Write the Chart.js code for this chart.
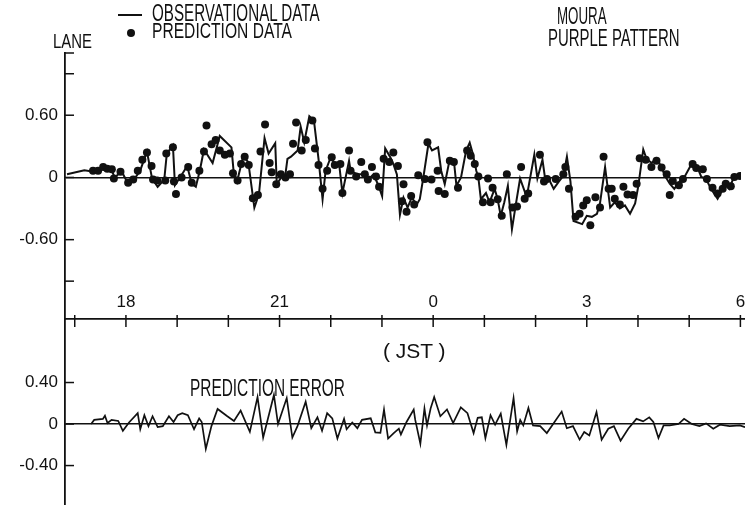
<!DOCTYPE html>
<html>
<head>
<meta charset="utf-8">
<script src="https://cdn.jsdelivr.net/npm/chart.js@4.4.1/dist/chart.umd.min.js"></script>
<style>
    html, body { margin: 0; padding: 0; background: #fff; }
    #wrap { position: relative; width: 745px; height: 505px; overflow: hidden; font-family: 'Liberation Sans', Arial, sans-serif; color: #111; }
    canvas { position: absolute; left: 0; }
    #laneChart { top: 0; }
    #errorChart { top: 280px; }
    .label { position: absolute; white-space: nowrap; line-height: 1; transform-origin: 0 0; }
    .key-line { position: absolute; left: 118px; top: 14px; width: 24px; height: 2px; background: #111; }
    .key-dot { position: absolute; left: 127px; top: 29px; width: 8px; height: 8px; border-radius: 50%; background: #111; }
</style>
</head>
<body>
<div id="wrap">
    <canvas id="laneChart" width="745" height="330"></canvas>
    <canvas id="errorChart" width="745" height="225"></canvas>

    <div class="key-line"></div>
    <div class="key-dot"></div>
    <div class="label" style="left:152px;top:2px;font-size:23px;transform:scaleX(0.66)">OBSERVATIONAL DATA</div>
    <div class="label" style="left:152px;top:20px;font-size:22px;transform:scaleX(0.71)">PREDICTION DATA</div>
    <div class="label" style="left:53px;top:30px;font-size:21px;transform:scaleX(0.71)">LANE</div>
    <div class="label" style="left:557px;top:5px;font-size:23px;transform:scaleX(0.58)">MOURA</div>
    <div class="label" style="left:548px;top:27px;font-size:23px;transform:scaleX(0.65)">PURPLE PATTERN</div>
    <div class="label" style="left:190px;top:377px;font-size:23px;transform:scaleX(0.67)">PREDICTION ERROR</div>
    <div class="label" style="left:383px;top:340px;font-size:21px;">( JST )</div>
</div>

<script>
// hours after 18:00 JST
const obsHours = [
    -1.15, -0.81, -0.63, -0.45, -0.29, -0.21, -0.08, 0.05, 0.18, 0.29, 0.42, 0.52, 0.63, 0.76, 0.81, 0.93, 0.97,
    1.07, 1.21, 1.30, 1.38, 1.46, 1.54, 1.71, 1.85, 2.08, 2.12, 2.19, 2.31, 2.41, 2.53, 2.62, 2.73, 2.81, 2.94, 2.97,
    3.07, 3.14, 3.18, 3.25, 3.38, 3.44, 3.51, 3.61, 3.70, 3.79, 3.87, 3.93, 4.03, 4.13, 4.20, 4.26, 4.39, 4.42,
    4.55, 4.68, 4.78, 4.87, 4.97, 5.04, 5.10, 5.20, 5.26, 5.33, 5.39, 5.46, 5.54, 5.62, 5.72, 5.78, 5.85, 5.95,
    6.02, 6.14, 6.20, 6.27, 6.37, 6.45, 6.50, 6.59, 6.69, 6.76, 6.82, 6.89, 6.93, 6.98, 7.08, 7.15, 7.25, 7.31,
    7.37, 7.44, 7.51, 7.59, 7.67, 7.75, 7.88, 8.03, 8.09, 8.19, 8.25, 8.31, 8.41, 8.51, 8.60, 8.67, 8.74, 8.80,
    8.97, 9.06, 9.16, 9.26, 9.32, 9.42, 9.52, 9.61, 9.71, 9.81, 9.91, 10.01, 10.07, 10.17, 10.23, 10.33, 10.43,
    10.53, 10.59, 10.69, 10.78, 10.88, 10.98, 11.13, 11.24, 11.31, 11.40, 11.50, 11.63, 11.70, 11.79, 11.86,
    11.95, 12.09
];
const obsLane = [
    0.03, 0.07, 0.055, 0.10, 0.08, 0.0, 0.06, -0.06, -0.01, 0.07, 0.25, -0.01, -0.09, -0.02, 0.23, 0.31, -0.075,
    0.0, 0.11, -0.06, -0.09, 0.07, 0.27, 0.14, 0.40, 0.29, 0.07, -0.04, 0.20, 0.15, -0.29, -0.16, 0.38, 0.23, 0.33, -0.065,
    0.01, 0.03, 0.18, 0.20, 0.26, 0.49, 0.34, 0.59, 0.55, 0.18, -0.21, 0.065, 0.195, 0.11, 0.11, -0.15, 0.16, 0.065,
    0.03, 0.03, -0.015, 0.03, -0.08, -0.18, 0.28, 0.195, 0.13, 0.03, -0.36, -0.195, -0.29, -0.195, -0.26, -0.21, 0.0, 0.325,
    0.26, 0.29, 0.065, -0.065, 0.18, 0.16, -0.08, 0.0, 0.26, 0.335, 0.23, 0.065, 0.0, -0.21, -0.15, -0.24, -0.11, -0.21,
    -0.37, -0.24, -0.08, -0.50, -0.25, -0.01, -0.19, 0.22, -0.01, 0.17, -0.04, -0.01, -0.11, -0.04, 0.015, 0.20, -0.04, -0.42,
    -0.45, -0.37, -0.38, -0.35, -0.25, 0.10, -0.29, -0.24, -0.30, -0.27, -0.35, -0.25, -0.09, 0.27, 0.185, 0.14, 0.185,
    0.10, 0.02, -0.06, -0.11, -0.04, 0.005, 0.14, 0.09, 0.005, -0.01, -0.11, -0.205, -0.14, -0.075, -0.11,
    0.005, 0.02
];

const predHours = [
    -0.64, -0.54, -0.44, -0.36, -0.27, -0.23, -0.10, 0.05, 0.15, 0.24, 0.33, 0.42, 0.51, 0.54, 0.62, 0.78, 0.80,
    0.93, 0.95, 0.99, 1.10, 1.23, 1.30, 1.45, 1.54, 1.59, 1.69, 1.77, 1.85, 1.95, 2.05, 2.11, 2.20, 2.27, 2.34,
    2.42, 2.50, 2.60, 2.65, 2.74, 2.83, 2.87, 2.96, 3.05, 3.14, 3.23, 3.29, 3.35, 3.46, 3.54, 3.67, 3.72, 3.79,
    3.87, 3.96, 4.05, 4.11, 4.22, 4.26, 4.39, 4.42, 4.53, 4.63, 4.70, 4.76, 4.84, 4.92, 4.98, 5.07, 5.18, 5.26,
    5.35, 5.43, 5.46, 5.52, 5.61, 5.67, 5.75, 5.88, 5.93, 6.01, 6.13, 6.15, 6.27, 6.37, 6.45, 6.53, 6.71, 6.78,
    6.86, 6.93, 7.02, 7.12, 7.17, 7.21, 7.31, 7.39, 7.49, 7.60, 7.69, 7.77, 7.84, 7.91, 8.14, 8.22, 8.28, 8.45,
    8.60, 8.64, 8.71, 8.84, 8.92, 8.99, 9.06, 9.13, 9.23, 9.32, 9.39, 9.49, 9.55, 9.61, 9.71, 9.78, 9.86, 9.97,
    10.04, 10.10, 10.22, 10.33, 10.43, 10.53, 10.63, 10.69, 10.75, 10.87, 10.95, 11.14, 11.21, 11.34, 11.42,
    11.53, 11.63, 11.73, 11.79, 11.89, 11.96, 12.07
];
const predLane = [
    0.065, 0.065, 0.10, 0.085, 0.08, -0.01, 0.055, -0.05, -0.02, 0.065, 0.17, 0.24, 0.11, -0.02, -0.03, -0.03, 0.23,
    0.29, -0.04, -0.16, 0.0, 0.10, -0.05, 0.065, 0.25, 0.50, 0.32, 0.36, 0.26, 0.22, 0.23, 0.04, -0.03, 0.13, 0.20,
    0.12, -0.20, -0.17, 0.25, 0.51, 0.14, 0.05, -0.065, 0.03, 0.0, 0.03, 0.325, 0.53, 0.26, 0.36, 0.55, 0.28, 0.12,
    -0.11, 0.065, 0.195, 0.12, 0.13, -0.15, 0.26, 0.065, 0.01, 0.15, 0.03, -0.02, 0.10, 0.01, -0.09, 0.18, 0.15, 0.24,
    0.11, -0.23, -0.065, -0.33, -0.18, -0.26, 0.02, -0.015, 0.34, -0.02, 0.065, -0.13, -0.16, 0.16, 0.15, -0.10, 0.26, 0.21,
    0.13, 0.01, -0.24, -0.01, -0.24, -0.10, -0.21, -0.37, 0.03, -0.29, -0.28, 0.10, -0.205, -0.155, 0.22, -0.04, -0.015, -0.015,
    0.03, 0.10, -0.11, -0.38, -0.35, -0.27, -0.22, -0.46, -0.19, -0.29, 0.20, -0.11, -0.11, -0.205, -0.26, -0.09, -0.165, -0.17,
    -0.06, 0.185, 0.17, 0.10, 0.16, 0.095, 0.03, -0.17, -0.035, -0.075, -0.015, 0.13, 0.09, 0.08, -0.015,
    -0.10, -0.155, -0.11, -0.06, -0.085, 0.005, 0.015
];

const errHours = [
    -0.68, -0.62, -0.45, -0.41, -0.36, -0.28, -0.15, -0.06, 0.06, 0.23, 0.28, 0.36, 0.44, 0.52, 0.62, 0.72, 0.84,
    0.93, 1.01, 1.10, 1.21, 1.33, 1.43, 1.48, 1.56, 1.67, 1.79, 1.98, 2.11, 2.24, 2.42, 2.57, 2.68, 2.89, 2.97,
    3.14, 3.25, 3.35, 3.51, 3.62, 3.74, 3.83, 3.93, 4.03, 4.13, 4.26, 4.31, 4.42, 4.52, 4.61, 4.78, 4.87, 4.97,
    5.04, 5.12, 5.23, 5.33, 5.37, 5.48, 5.62, 5.65, 5.75, 5.83, 5.88, 5.95, 6.02, 6.14, 6.27, 6.39, 6.54, 6.67,
    6.79, 6.87, 6.95, 7.02, 7.12, 7.21, 7.32, 7.43, 7.57, 7.64, 7.70, 7.76, 7.86, 7.95, 8.09, 8.22, 8.38, 8.51,
    8.61, 8.73, 8.86, 8.95, 9.05, 9.19, 9.29, 9.42, 9.53, 9.66, 9.81, 9.97, 10.10, 10.22, 10.30, 10.40, 10.50,
    10.62, 10.79, 10.90, 11.05, 11.20, 11.33, 11.47, 11.60, 11.79, 11.99, 12.09
];
const errLane = [
    0, 0.04, 0.05, 0.08, 0.01, 0.04, 0.03, -0.065, 0.015, 0.105, -0.05, 0.085, -0.02, 0.075, -0.03, -0.02, 0.075,
    0.02, 0.085, 0.105, 0.085, -0.05, 0.055, 0.02, -0.24, -0.02, 0.145, 0.075, 0.03, 0.13, -0.075, 0.26, -0.13, 0.28, 0.0,
    0.25, -0.13, -0.02, 0.215, -0.04, 0.065, -0.065, 0.105, 0.055, -0.14, 0.05, -0.05, 0.015, -0.04, 0.04, 0.055, -0.08, -0.085,
    0.14, -0.14, -0.087, -0.045, -0.10, 0.02, 0.14, 0.04, -0.19, 0.15, -0.013, 0.15, 0.26, 0.075, 0.14, 0.01, 0.16, 0.105,
    -0.087, 0.06, 0.065, -0.135, 0.085, -0.006, 0.10, -0.20, 0.25, -0.07, 0.04, -0.013, 0.155, -0.013, -0.02, -0.087, 0.026, 0.12,
    -0.04, -0.02, -0.15, -0.077, -0.11, 0.115, -0.15, -0.045, -0.02, -0.16, -0.045, 0.05, 0.026, 0.064, 0.02, -0.135, -0.013,
    -0.013, 0, 0.05, 0, -0.02, 0.006, -0.045, -0.006, -0.02, -0.013, -0.03
];

// time axis: a tick every hour, clock labels every three hours
const hourTicks = [-1, 0, 1, 2, 3, 4, 5, 6, 7, 8, 9, 10, 11, 12];
const clockTicks = [0, 3, 6, 9, 12];
const clockLabels = ['18', '21', '0', '3', '6'];

const laneTickValues = [-1.0, -0.6, 0, 0.6, 1.0, 1.2];
const laneLabelled = [-0.6, 0, 0.6];
const errTickValues = [-0.4, 0, 0.4];

const ink = '#111';
const plainFont = "'Liberation Sans', Arial, sans-serif";
const hourMin = -1.19;
const hourMax = 12.09;

const toPoints = (xs, ys) => xs.map((x, i) => ({ x, y: ys[i] }));
const fmt = v => (v === 0 ? '0' : v.toFixed(2));

// short tick marks pointing into the plot, and crossing ticks on the time axis
const tickMarks = {
    id: 'tickMarks',
    afterDraw(chart, args, opts) {
        const ctx = chart.ctx;
        ctx.save();
        ctx.strokeStyle = ink;
        ctx.lineWidth = 1.5;
        const y = chart.scales.y;
        y.ticks.forEach(t => {
            const py = y.getPixelForValue(t.value);
            ctx.beginPath();
            ctx.moveTo(y.right, py);
            ctx.lineTo(y.right + opts.yLength, py);
            ctx.stroke();
        });
        const x = chart.scales.x;
        if (opts.xDown && x.options.display) {
            x.ticks.forEach(t => {
                const px = x.getPixelForValue(t.value);
                ctx.beginPath();
                ctx.moveTo(px, x.bottom - opts.xUp);
                ctx.lineTo(px, x.bottom + opts.xDown);
                ctx.stroke();
            });
        }
        ctx.restore();
    }
};

const yAxis = (min, max, values, labelled) => ({
    min,
    max,
    afterBuildTicks: s => { s.ticks = values.map(v => ({ value: v })); },
    afterFit: s => { s.width = 65; s.paddingTop = 0; s.paddingBottom = 0; },
    border: { color: ink, width: 1.8 },
    grid: {
        drawTicks: false,
        lineWidth: 1.5,
        color: c => (c.tick && c.tick.value === 0 ? ink : 'rgba(0,0,0,0)'),
    },
    ticks: {
        padding: 7,
        color: ink,
        font: { family: plainFont, size: 17 },
        callback: v => (labelled.includes(v) ? fmt(v) : ''),
    },
});

new Chart(document.getElementById('laneChart'), {
    type: 'line',
    data: {
        datasets: [
            {
                label: 'OBSERVATIONAL DATA',
                data: toPoints(obsHours, obsLane),
                borderColor: ink,
                borderWidth: 2,
                pointRadius: 0,
                tension: 0,
            },
            {
                label: 'PREDICTION DATA',
                data: toPoints(predHours, predLane),
                showLine: false,
                pointRadius: 4,
                pointBorderWidth: 0,
                pointBackgroundColor: ink,
            },
        ],
    },
    options: {
        responsive: false,
        animation: false,
        layout: { padding: { top: 53, bottom: 11, left: 0, right: 0 } },
        plugins: {
            legend: { display: false },
            tooltip: { enabled: false },
            tickMarks: { yLength: 9 },
        },
        scales: {
            x: { type: 'linear', min: hourMin, max: hourMax, display: false },
            y: yAxis(-1.365, 1.2, laneTickValues, laneLabelled),
        },
    },
    plugins: [tickMarks],
});

new Chart(document.getElementById('errorChart'), {
    type: 'line',
    data: {
        datasets: [
            {
                label: 'PREDICTION ERROR',
                data: toPoints(errHours, errLane),
                borderColor: ink,
                borderWidth: 1.7,
                pointRadius: 0,
                tension: 0,
            },
        ],
    },
    options: {
        responsive: false,
        animation: false,
        layout: { padding: 0 },
        plugins: {
            legend: { display: false },
            tooltip: { enabled: false },
            tickMarks: { yLength: 9, xUp: 4, xDown: 8 },
        },
        scales: {
            x: {
                type: 'linear',
                position: 'top',
                min: hourMin,
                max: hourMax,
                afterBuildTicks: s => { s.ticks = hourTicks.map(v => ({ value: v })); },
                afterFit: s => { s.height = 39; s.paddingLeft = 0; s.paddingRight = 0; },
                border: { color: ink, width: 1.8 },
                grid: { display: false, drawTicks: false },
                ticks: {
                    autoSkip: false,
                    maxRotation: 0,
                    padding: 6,
                    color: ink,
                    font: { family: plainFont, size: 17 },
                    callback: v => {
                        const i = clockTicks.indexOf(v);
                        return i >= 0 ? clockLabels[i] : '';
                    },
                },
            },
            y: yAxis(-0.78, 1.012, errTickValues, errTickValues),
        },
    },
    plugins: [tickMarks],
});
</script>
</body>
</html>
